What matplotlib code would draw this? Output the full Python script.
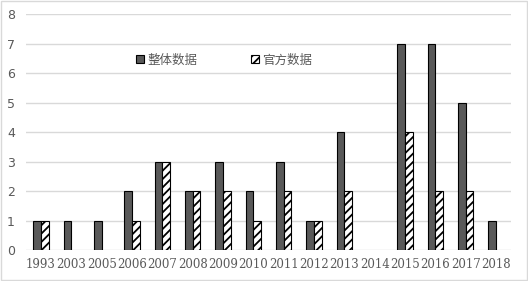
import matplotlib
matplotlib.use("Agg")
import matplotlib.pyplot as plt
import numpy as np
from matplotlib.patches import Rectangle

years = ["1993", "2003", "2005", "2006", "2007", "2008", "2009", "2010",
         "2011", "2012", "2013", "2014", "2015", "2016", "2017", "2018"]
overall = [1, 1, 1, 2, 3, 2, 3, 2, 3, 1, 4, 0, 7, 7, 5, 1]
official = [1, 0, 0, 1, 3, 2, 2, 1, 2, 1, 2, 0, 4, 2, 2, 0]

plt.rcParams['hatch.linewidth'] = 1.3
fig = plt.figure(figsize=(5.28, 2.81), dpi=100)
ax = fig.add_axes([0.049, 0.110, 0.919, 0.840])

x = np.arange(len(years))
w = 0.25
ax.bar(x - w / 2, overall, width=w, color="#595959", edgecolor="black",
       linewidth=[0.8 if v else 0 for v in overall], label="整体数据", zorder=3)
ax.bar(x + w / 2, official, width=w, color="white", edgecolor="black",
       hatch="////", linewidth=[0.8 if v else 0 for v in official],
       label="官方数据", zorder=3)

ax.set_xlim(-0.5, len(years) - 0.5)
ax.set_ylim(0, 8)
ax.set_yticks(range(0, 9))
ax.yaxis.grid(True, color="#d9d9d9", linewidth=1.0, zorder=0)
ax.set_axisbelow(True)
for s in ax.spines.values():
    s.set_visible(False)
ax.tick_params(axis="both", length=0, colors="#595959")
ax.tick_params(axis="y", labelsize=9, pad=8)
ax.set_xticks(x)
ax.set_xticklabels(years, fontsize=8.5, family="DejaVu Serif")
ax.tick_params(axis="x", pad=6)

leg = ax.legend(loc="upper left", bbox_to_anchor=(0.204, 0.88), ncol=2,
                frameon=False, prop={"family": ["Noto Sans CJK SC", "DejaVu Sans"], "size": 9},
                handlelength=0.6, handleheight=0.6, handletextpad=0.3,
                columnspacing=4.3, labelcolor="#595959")
for h in leg.legend_handles:
    h.set_linewidth(0.8)

fig.patches.append(Rectangle((0.002, 0.004), 0.996, 0.992, transform=fig.transFigure,
                             fill=False, edgecolor="#d9d9d9", linewidth=1.0))
fig.savefig("out.png", dpi=100)
